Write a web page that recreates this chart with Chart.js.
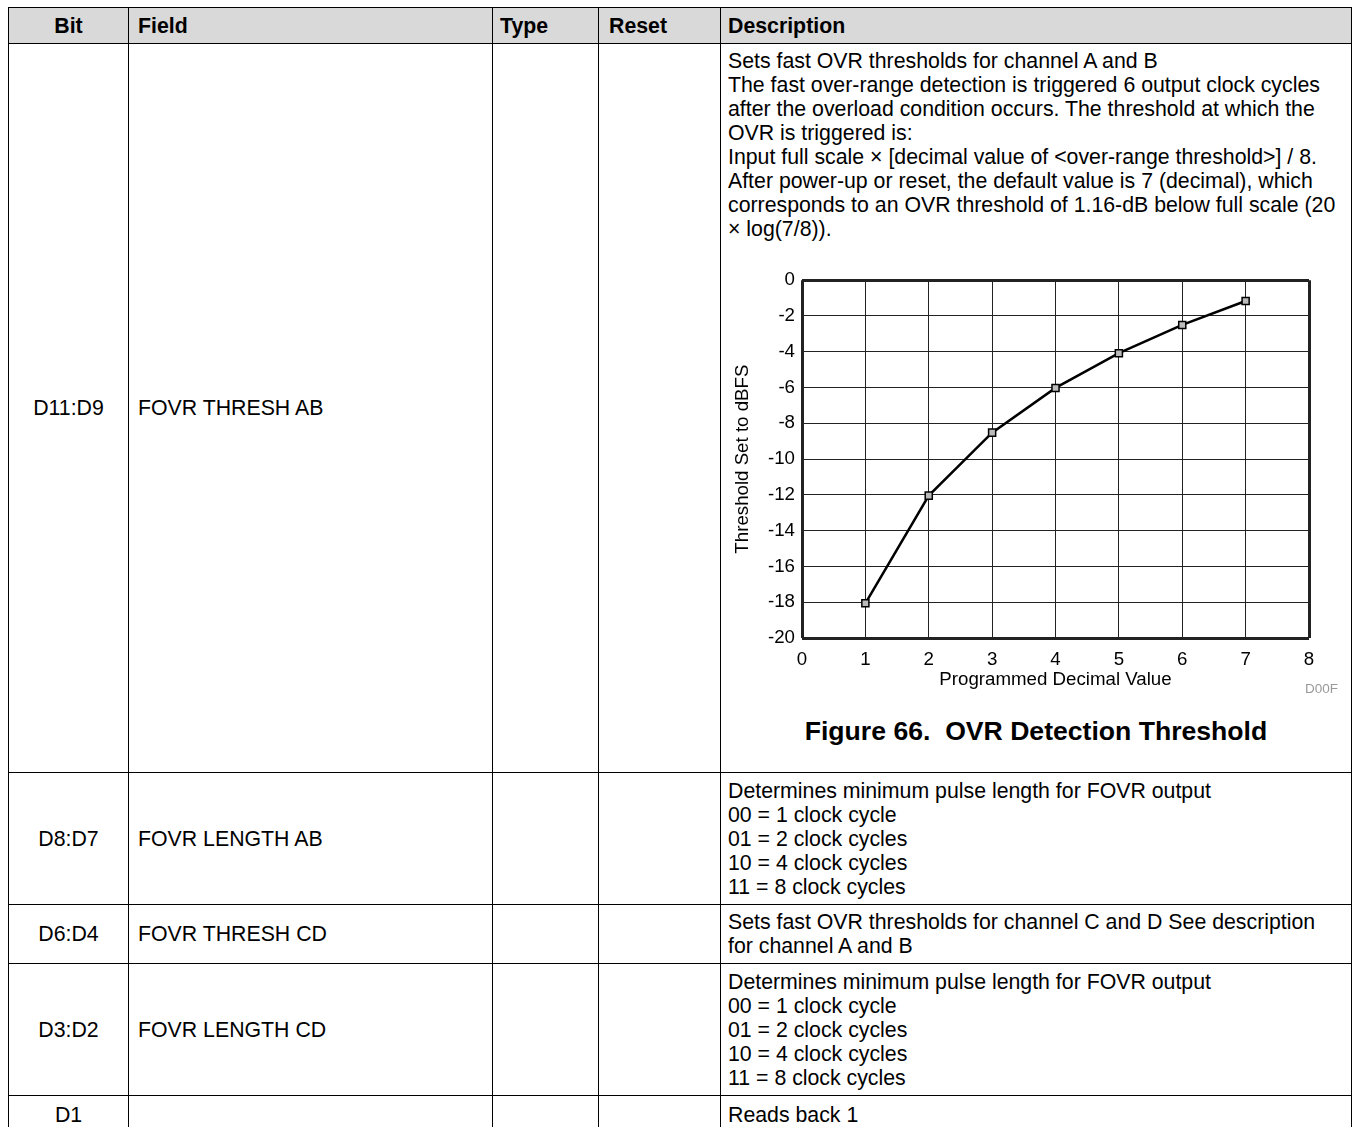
<!DOCTYPE html>
<html>
<head>
<meta charset="utf-8">
<script src="https://cdn.jsdelivr.net/npm/chart.js@4"></script>
<style>
html, body { margin: 0; padding: 0; background: #fff; overflow: hidden; }
body { width: 1353px; height: 1127px; position: relative; }
table {
    position: absolute; left: 8px; top: 7px;
    border-collapse: collapse; table-layout: fixed;
    font-family: "Liberation Sans", Arial, sans-serif;
    font-size: 21.3px; line-height: 24px; color: #000;
}
td, th {
    border: 1px solid #000; padding: 5px 7px;
    vertical-align: middle; white-space: nowrap; overflow: hidden;
}
th { background: #d9d9d9; font-weight: bold; text-align: left; }
.c { text-align: center; }
.f { padding-left: 9px; }
.r { padding-left: 10px; }
.top { vertical-align: top; }
#chartBox { position: relative; width: 615px; height: 438px; margin-top: 21px; }
#code { position: absolute; right: 5px; top: 419px; font-size: 13.5px; line-height: 16px; color: #999; }
#caption { margin-top: 16px; text-align: center; font-weight: bold; font-size: 26.6px; line-height: 30px; white-space: pre; }
</style>
</head>
<body>
<table>
    <colgroup>
        <col style="width:120px">
        <col style="width:364px">
        <col style="width:106px">
        <col style="width:122px">
        <col style="width:631px">
    </colgroup>
    <tr style="height:36px">
        <th class="c">Bit</th><th class="f">Field</th><th>Type</th><th class="r">Reset</th><th>Description</th>
    </tr>
    <tr style="height:729px">
        <td class="c">D11:D9</td>
        <td class="f">FOVR THRESH AB</td>
        <td></td><td></td>
        <td class="top">
            Sets fast OVR thresholds for channel A and B<br>
            The fast over-range detection is triggered 6 output clock cycles<br>
            after the overload condition occurs. The threshold at which the<br>
            OVR is triggered is:<br>
            Input full scale × [decimal value of &lt;over-range threshold&gt;] / 8.<br>
            After power-up or reset, the default value is 7 (decimal), which<br>
            corresponds to an OVR threshold of 1.16-dB below full scale (20<br>
            × log(7/8)).
            <div id="chartBox">
                <canvas id="myChart"></canvas>
                <div id="code">D00F</div>
            </div>
            <div id="caption">Figure 66.  OVR Detection Threshold</div>
        </td>
    </tr>
    <tr style="height:132px">
        <td class="c">D8:D7</td>
        <td class="f">FOVR LENGTH AB</td>
        <td></td><td></td>
        <td>Determines minimum pulse length for FOVR output<br>00 = 1 clock cycle<br>01 = 2 clock cycles<br>10 = 4 clock cycles<br>11 = 8 clock cycles</td>
    </tr>
    <tr style="height:58px">
        <td class="c">D6:D4</td>
        <td class="f">FOVR THRESH CD</td>
        <td></td><td></td>
        <td>Sets fast OVR thresholds for channel C and D See description<br>for channel A and B</td>
    </tr>
    <tr style="height:132px">
        <td class="c">D3:D2</td>
        <td class="f">FOVR LENGTH CD</td>
        <td></td><td></td>
        <td>Determines minimum pulse length for FOVR output<br>00 = 1 clock cycle<br>01 = 2 clock cycles<br>10 = 4 clock cycles<br>11 = 8 clock cycles</td>
    </tr>
    <tr style="height:38px">
        <td class="c">D1</td>
        <td class="f"></td>
        <td></td><td></td>
        <td>Reads back 1</td>
    </tr>
</table>

<script>
// programmed decimal value vs threshold (dBFS)
const decimalValues = [1, 2, 3, 4, 5, 6, 7];
const thresholdDbfs = [-18.06, -12.04, -8.52, -6.02, -4.08, -2.5, -1.16];

const xTitle = "Programmed Decimal Value";
const yTitle = "Threshold Set to dBFS";

const points = [];
for (let i = 0; i < decimalValues.length; i++) {
    points.push({x: decimalValues[i], y: thresholdDbfs[i]});
}

const chartFont = {family: '"Liberation Sans", Arial, sans-serif', size: 18.7};

// thick frame on the outer grid lines
function edgeWidth(min, max) {
    return (ctx) => (ctx.tick && (ctx.tick.value === min || ctx.tick.value === max)) ? 3 : 1;
}

const ctx = document.getElementById("myChart");
const myChart = new Chart(ctx, {
    type: "line",
    data: {
        datasets: [{
            data: points,
            borderColor: "#000",
            borderWidth: 2.5,
            tension: 0,
            pointStyle: "rect",
            pointRadius: 5,
            pointBorderWidth: 1.5,
            pointBackgroundColor: "#bbb",
            pointBorderColor: "#000",
            fill: false
        }]
    },
    options: {
        responsive: true,
        maintainAspectRatio: false,
        animation: false,
        layout: {padding: {top: 16, right: 34, bottom: 0, left: 0}},
        plugins: {legend: {display: false}, tooltip: {enabled: false}},
        scales: {
            x: {
                type: "linear",
                min: 0, max: 8,
                ticks: {stepSize: 1, color: "#000", font: chartFont, padding: 11},
                grid: {color: "#222", lineWidth: edgeWidth(0, 8), drawTicks: false},
                border: {display: false},
                title: {display: true, text: xTitle, color: "#000", font: chartFont, padding: {top: 0, bottom: 9}},
                afterFit: (scale) => { scale.height = 62; }
            },
            y: {
                min: -20, max: 0,
                ticks: {stepSize: 2, color: "#000", font: chartFont, padding: 7},
                grid: {color: "#222", lineWidth: edgeWidth(-20, 0), drawTicks: false},
                border: {display: false},
                title: {display: true, text: yTitle, color: "#000", font: chartFont, padding: {top: 4, bottom: 0}},
                afterFit: (scale) => { scale.width = 74; }
            }
        }
    }
});
</script>
</body>
</html>
